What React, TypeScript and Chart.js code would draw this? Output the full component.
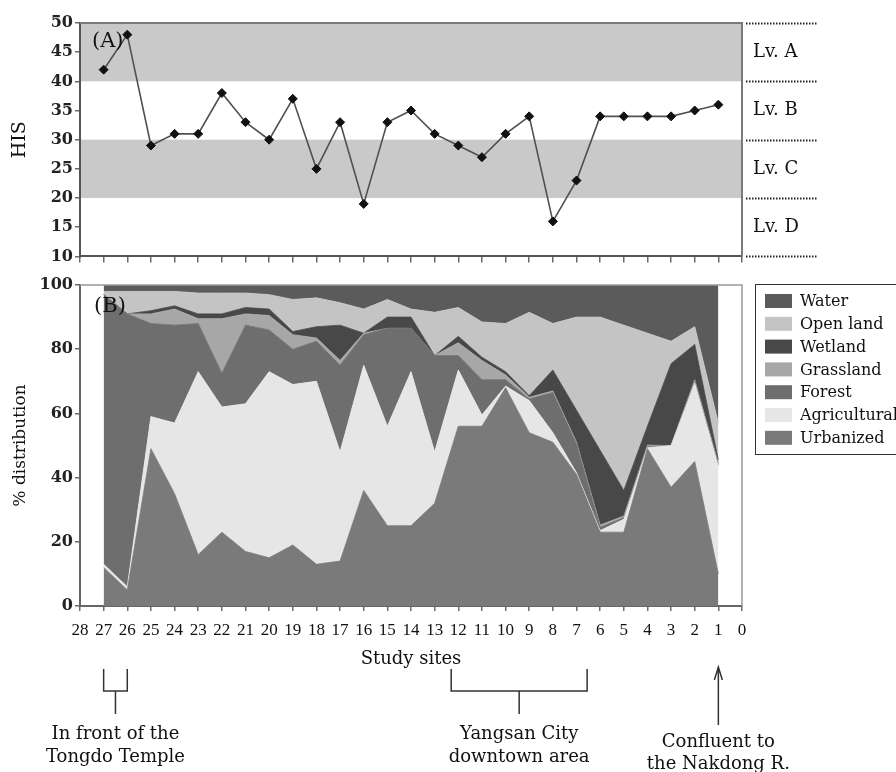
import React, { useEffect, useRef } from 'react';
import { Chart, registerables } from 'chart.js';

Chart.register(...registerables);

// ---------- data ----------
const SITES = [27, 26, 25, 24, 23, 22, 21, 20, 19, 18, 17, 16, 15, 14, 13, 12, 11, 10, 9, 8, 7, 6, 5, 4, 3, 2, 1];
const HIS = [42, 48, 29, 31, 31, 38, 33, 30, 37, 25, 33, 19, 33, 35, 31, 29, 27, 31, 34, 16, 23, 34, 34, 34, 34, 35, 36];

const LEVEL_BOUNDS = [50, 40, 30, 20, 10];
const LEVEL_LABELS = ['Lv. A', 'Lv. B', 'Lv. C', 'Lv. D'];
const SHADED_BANDS = [[40, 50], [20, 30]];

const URBANIZED = [12, 5, 49, 35, 16, 23, 17, 15, 19, 13, 14, 36, 25, 25, 32, 56, 56, 68, 54, 51, 41, 23, 23, 49, 37, 45, 10];
const AGRICULTURAL = [1, 1, 10, 22, 57, 39, 46, 58, 50, 57, 34, 39, 31, 48, 16, 17.5, 3.5, 0.5, 10, 3, 0.5, 0.5, 4, 0.3, 13, 24.5, 33.5];
const FOREST = [84, 85, 29, 30.5, 15, 10.5, 24.5, 13, 11, 12.5, 27, 9.5, 30.5, 13.5, 30, 4.5, 11, 2, 0.5, 12.5, 9, 1, 0.5, 0.4, 0, 0.5, 0.5];
const GRASSLAND = [0, 0, 3, 5, 1.5, 17, 3.5, 4.5, 4.5, 1, 1.5, 0.5, 0, 0, 0, 4, 6, 1.5, 0.5, 0.5, 0.5, 0.7, 0.5, 0.4, 0, 0.5, 0.5];
const WETLAND = [0, 0, 1, 1, 1.5, 1.5, 2, 2, 1, 3.5, 11, 0, 3.5, 3.5, 0, 2, 1, 1, 0.5, 6.5, 10, 23.3, 8, 5.9, 25.5, 11, 1];
const OPEN_LAND = [1, 7, 6, 4.5, 6.5, 6.5, 4.5, 4.5, 10, 9, 7, 7.5, 5.5, 2.5, 13.5, 9, 11, 15, 26, 14.5, 29, 41.5, 51.5, 29, 7, 5.5, 11.5];
const WATER = [2, 2, 2, 2, 2.5, 2.5, 2.5, 3, 4.5, 4, 5.5, 7.5, 4.5, 7.5, 8.5, 7, 11.5, 12, 8.5, 12, 10, 10, 12.5, 15, 17.5, 13, 43];

const LAND_LABELS = ['Urbanized', 'Agricultural', 'Forest', 'Grassland', 'Wetland', 'Open land', 'Water'];
const LAND_VALUES = [URBANIZED, AGRICULTURAL, FOREST, GRASSLAND, WETLAND, OPEN_LAND, WATER];

const ANNOTATIONS = [
  { kind: 'bracket', from: 27, to: 26, lines: ['In front of the', 'Tongdo Temple'] },
  { kind: 'bracket', from: 12.3, to: 6.55, lines: ['Yangsan City', 'downtown area'] },
  { kind: 'arrow', from: 1, to: 1, lines: ['Confluent to', 'the Nakdong R.'] },
];

// ---------- styles ----------
const LAND_COLORS = ['#7a7a7a', '#e6e6e6', '#6e6e6e', '#a7a7a7', '#484848', '#c4c4c4', '#5b5b5b'];
const FONT = '"DejaVu Serif", serif';
const NARROW = '"Liberation Serif", serif';
const TEXT = '#111';
const AXIS = '#6a6a6a';
const BAND = '#c9c9c9';

const W = 896;
const TOP_H = 268;
const BOT_H = 504;

function HisChart() {
  const ref = useRef<HTMLCanvasElement>(null);
  useEffect(() => {
    const plugin = {
      id: 'hisDecor',
      beforeDraw(chart: any) {
        const { ctx, chartArea: a, scales } = chart;
        const y = scales.y;
        ctx.save();
        ctx.fillStyle = BAND;
        SHADED_BANDS.forEach(([lo, hi]) => {
          const y1 = y.getPixelForValue(hi);
          const y2 = y.getPixelForValue(lo);
          ctx.fillRect(a.left, y1, a.right - a.left, y2 - y1);
        });
        ctx.restore();
      },
      afterDraw(chart: any) {
        const { ctx, chartArea: a, scales } = chart;
        const y = scales.y;
        ctx.save();
        ctx.strokeStyle = '#7a7a7a';
        ctx.lineWidth = 2;
        ctx.beginPath();
        ctx.moveTo(a.left, a.top);
        ctx.lineTo(a.right, a.top);
        ctx.lineTo(a.right, a.bottom);
        ctx.stroke();
        ctx.strokeStyle = '#222';
        ctx.lineWidth = 2;
        ctx.setLineDash([1.5, 1.5]);
        LEVEL_BOUNDS.forEach((v) => {
          const py = Math.round(y.getPixelForValue(v)) + 0.5;
          ctx.beginPath();
          ctx.moveTo(a.right + 4, py);
          ctx.lineTo(a.right + 76, py);
          ctx.stroke();
        });
        ctx.setLineDash([]);
        ctx.fillStyle = TEXT;
        ctx.font = '18px ' + FONT;
        ctx.textBaseline = 'middle';
        ctx.textAlign = 'left';
        LEVEL_LABELS.forEach((t, i) => {
          const py = (y.getPixelForValue(LEVEL_BOUNDS[i]) + y.getPixelForValue(LEVEL_BOUNDS[i + 1])) / 2;
          ctx.fillText(t, a.right + 11, py);
        });
        ctx.font = '21px ' + FONT;
        ctx.textBaseline = 'alphabetic';
        ctx.fillText('(A)', a.left + 12, 47);
        ctx.restore();
      },
    };
    const chart = new Chart(ref.current!, {
      type: 'line',
      data: {
        datasets: [
          {
            label: 'HIS',
            data: SITES.map((s, i) => ({ x: s, y: HIS[i] })),
            borderColor: '#505050',
            borderWidth: 1.6,
            pointStyle: 'rectRot',
            pointRadius: 4.5,
            pointBackgroundColor: '#111',
            pointBorderColor: '#111',
            pointBorderWidth: 1,
            tension: 0,
            fill: false,
          },
        ],
      },
      options: {
        animation: false,
        responsive: false,
        maintainAspectRatio: false,
        layout: { padding: { top: 23, right: W - 742, bottom: 3, left: 0 } },
        plugins: { legend: { display: false }, tooltip: { enabled: false } },
        scales: {
          x: {
            type: 'linear',
            min: 0,
            max: 28,
            reverse: true,
            ticks: { stepSize: 1, display: false },
            grid: { drawOnChartArea: false, drawTicks: true, tickLength: 6, color: AXIS, lineWidth: 1.5 },
            border: { color: '#555', width: 2 },
            afterFit(s: any) { s.height = 8; },
          },
          y: {
            min: 10,
            max: 50,
            ticks: { stepSize: 5, font: { size: 16, family: FONT, weight: 'bold' }, color: '#222', padding: 2 },
            grid: { drawOnChartArea: false, drawTicks: true, tickLength: 5, color: AXIS, lineWidth: 1.5 },
            border: { color: '#555', width: 2 },
            title: { display: true, text: 'HIS', font: { size: 19, family: FONT }, color: TEXT, padding: { top: 9, bottom: 0 } },
            afterFit(s: any) { s.width = 80; },
          },
        },
      },
      plugins: [plugin],
    } as any);
    return () => chart.destroy();
  }, []);
  return <canvas ref={ref} width={W} height={TOP_H} style={{ position: 'absolute', left: 0, top: 0, width: W, height: TOP_H }} />;
}

function LandChart() {
  const ref = useRef<HTMLCanvasElement>(null);
  useEffect(() => {
    const OFF = TOP_H;
    const plugin = {
      id: 'landDecor',
      afterDraw(chart: any) {
        const { ctx, chartArea: a, scales } = chart;
        const x = scales.x;
        ctx.save();
        ctx.strokeStyle = '#999';
        ctx.lineWidth = 1.5;
        ctx.beginPath();
        ctx.moveTo(a.left, a.top);
        ctx.lineTo(a.right, a.top);
        ctx.lineTo(a.right, a.bottom);
        ctx.stroke();
        ctx.fillStyle = TEXT;
        ctx.font = '21px ' + FONT;
        ctx.textBaseline = 'alphabetic';
        ctx.textAlign = 'left';
        ctx.fillText('(B)', a.left + 14, 312 - OFF);
        // legend
        const bx = 755.5, by = 284.5 - OFF;
        ctx.strokeStyle = '#333';
        ctx.lineWidth = 1;
        ctx.strokeRect(bx, by, 170, 170);
        ctx.font = '16px ' + FONT;
        ctx.textBaseline = 'middle';
        const ds = chart.data.datasets.slice().reverse();
        ds.forEach((d: any, i: number) => {
          const cy = 301 - OFF + i * 22.8;
          ctx.fillStyle = d.backgroundColor;
          ctx.fillRect(765, cy - 7, 27, 14);
          ctx.fillStyle = TEXT;
          ctx.fillText(d.label, 800, cy + 1);
        });
        // annotations
        ctx.strokeStyle = '#333';
        ctx.lineWidth = 1.5;
        ctx.font = '18px ' + FONT;
        ctx.textAlign = 'center';
        ctx.textBaseline = 'middle';
        ANNOTATIONS.forEach((an) => {
          const x1 = x.getPixelForValue(an.from);
          const x2 = x.getPixelForValue(an.to);
          const cx = (x1 + x2) / 2;
          if (an.kind === 'bracket') {
            ctx.beginPath();
            ctx.moveTo(x1, 669 - OFF);
            ctx.lineTo(x1, 691 - OFF);
            ctx.lineTo(x2, 691 - OFF);
            ctx.lineTo(x2, 669 - OFF);
            ctx.moveTo(cx, 691 - OFF);
            ctx.lineTo(cx, 714 - OFF);
            ctx.stroke();
            ctx.fillStyle = TEXT;
            ctx.fillText(an.lines[0], cx, 734 - OFF);
            ctx.fillText(an.lines[1], cx, 757 - OFF);
          } else {
            ctx.beginPath();
            ctx.moveTo(cx, 725 - OFF);
            ctx.lineTo(cx, 667 - OFF);
            ctx.moveTo(cx - 4, 680 - OFF);
            ctx.lineTo(cx, 667 - OFF);
            ctx.lineTo(cx + 4, 680 - OFF);
            ctx.stroke();
            ctx.fillStyle = TEXT;
            ctx.fillText(an.lines[0], cx, 742 - OFF);
            ctx.fillText(an.lines[1], cx, 764 - OFF);
          }
        });
        ctx.restore();
      },
    };
    const datasets = LAND_LABELS.map((label, k) => ({
      label,
      data: SITES.map((s, i) => ({ x: s, y: LAND_VALUES[k][i] })),
      backgroundColor: LAND_COLORS[k],
      borderColor: LAND_COLORS[k],
      borderWidth: 0.8,
      pointRadius: 0,
      tension: 0,
      fill: k === 0 ? 'origin' : '-1',
    }));
    const chart = new Chart(ref.current!, {
      type: 'line',
      data: { datasets },
      options: {
        animation: false,
        responsive: false,
        maintainAspectRatio: false,
        layout: { padding: { top: 285 - OFF, right: W - 742, bottom: BOT_H - (606 - OFF) - 64, left: 0 } },
        plugins: { legend: { display: false }, tooltip: { enabled: false } },
        scales: {
          x: {
            type: 'linear',
            min: 0,
            max: 28,
            reverse: true,
            ticks: { stepSize: 1, autoSkip: false, maxRotation: 0, font: { size: 17, family: NARROW }, color: TEXT, padding: 9 },
            grid: { drawOnChartArea: false, drawTicks: true, tickLength: 5, color: AXIS, lineWidth: 1.5 },
            border: { color: '#666', width: 2 },
            title: { display: true, text: 'Study sites', font: { size: 18, family: FONT }, color: TEXT, padding: { top: 0, bottom: 0 } },
            afterFit(s: any) { s.height = 64; },
          },
          y: {
            stacked: true,
            min: 0,
            max: 100,
            ticks: { stepSize: 20, font: { size: 16, family: FONT, weight: 'bold' }, color: '#222', padding: 2 },
            grid: { drawOnChartArea: false, drawTicks: true, tickLength: 5, color: AXIS, lineWidth: 1.5 },
            border: { color: '#666', width: 2 },
            title: { display: true, text: '% distribution', font: { size: 17, family: FONT }, color: TEXT, padding: { top: 10, bottom: 0 } },
            afterFit(s: any) { s.width = 80; },
          },
        },
      },
      plugins: [plugin],
    } as any);
    return () => chart.destroy();
  }, []);
  return <canvas ref={ref} width={W} height={BOT_H} style={{ position: 'absolute', left: 0, top: TOP_H, width: W, height: BOT_H }} />;
}

export default function App() {
  return (
    <div style={{ position: 'absolute', left: 0, top: 0, width: W, height: 772, background: '#fff', overflow: 'hidden' }}>
      <HisChart />
      <LandChart />
    </div>
  );
}
